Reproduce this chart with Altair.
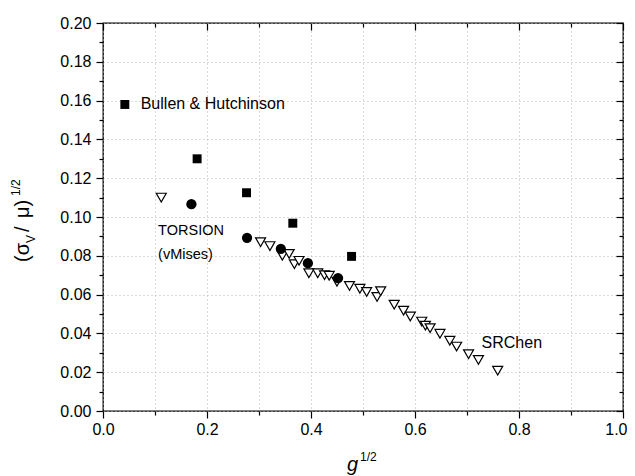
import altair as alt
import pandas as pd

# ---- data ----
sr_x = [0.112, 0.303, 0.321, 0.345, 0.358, 0.368, 0.377, 0.396, 0.413, 0.426,
        0.435, 0.450, 0.474, 0.494, 0.507, 0.527, 0.534, 0.560, 0.578, 0.591,
        0.613, 0.620, 0.629, 0.648, 0.667, 0.680, 0.703, 0.722, 0.759]
sr_y = [0.110, 0.087, 0.085, 0.080, 0.081, 0.0757, 0.0774, 0.071, 0.071, 0.070,
        0.0697, 0.0666, 0.0645, 0.063, 0.0614, 0.0588, 0.0618, 0.0548, 0.0517, 0.0487,
        0.0461, 0.0440, 0.0427, 0.0398, 0.0362, 0.0332, 0.0293, 0.0263, 0.0208]

tor_x = [0.170, 0.277, 0.342, 0.394, 0.452]
tor_y = [0.1066, 0.0893, 0.0836, 0.0762, 0.0685]

bh_x = [0.181, 0.276, 0.365, 0.478]
bh_y = [0.130, 0.1125, 0.0968, 0.0797]

leg_x = [0.042]
leg_y = [0.158]

label_text = ["Bullen & Hutchinson", "TORSION", "(vMises)", "SRChen"]
label_x = [0.0725, 0.106, 0.106, 0.728]
label_y = [0.1582, 0.0926, 0.0802, 0.0351]
label_size = [16, 14.5, 14.5, 16]

x_major = [0.0, 0.2, 0.4, 0.6, 0.8, 1.0]
x_minor = [0.1, 0.3, 0.5, 0.7, 0.9]
y_major = [0.0, 0.02, 0.04, 0.06, 0.08, 0.10, 0.12, 0.14, 0.16, 0.18, 0.20]
y_minor = [0.01, 0.03, 0.05, 0.07, 0.09, 0.11, 0.13, 0.15, 0.17, 0.19]

FONT = "Liberation Sans"

sr = pd.DataFrame({"x": sr_x, "y": sr_y})
tor = pd.DataFrame({"x": tor_x, "y": tor_y})
bh = pd.DataFrame({"x": bh_x, "y": bh_y})
leg = pd.DataFrame({"x": leg_x, "y": leg_y})
labels = pd.DataFrame({"x": label_x, "y": label_y, "t": label_text, "s": label_size})

xs = alt.Scale(domain=[0, 1], nice=False, zero=False)
ys = alt.Scale(domain=[0, 0.2], nice=False, zero=False)

common = dict(domain=False, title=None, tickColor="black", tickWidth=1.2,
              labelFont=FONT, labelFontSize=16, labelColor="black",
              labelFlush=False, labelOverlap=False, labelBound=False,
              gridColor="#b4b4b4", gridDash=[1, 3], gridWidth=1)

ax_x_major = alt.Axis(orient="bottom", values=x_major, format=".1f", tickSize=7,
                      labelPadding=3, grid=True,
                      labelAlign={"condition": {"test": "datum.value >= 1", "value": "right"},
                                  "value": "center"},
                      labelOffset={"condition": {"test": "datum.value >= 1", "value": 4},
                                   "value": 0},
                      **common)
ax_y_major = alt.Axis(orient="left", values=y_major, format=".2f", tickSize=7,
                      labelPadding=5, grid=True, **common)
ax_x_minor = alt.Axis(orient="bottom", values=x_minor, tickSize=4, labels=False,
                      grid=True, **common)
ax_y_minor = alt.Axis(orient="left", values=y_minor, tickSize=4, labels=False,
                      grid=False, **common)
ax_x_top = alt.Axis(orient="top", values=x_major, tickSize=7, offset=-7, labels=False,
                    grid=False, **common)
ax_y_right = alt.Axis(orient="right", values=y_major, tickSize=7, offset=-7, labels=False,
                      grid=False, **common)
ax_x_top_minor = alt.Axis(orient="top", values=x_minor, tickSize=4, offset=-4, labels=False,
                          grid=False, **common)
ax_y_right_minor = alt.Axis(orient="right", values=y_minor, tickSize=4, offset=-4, labels=False,
                            grid=False, **common)

tri = alt.Chart(sr).mark_point(shape="triangle-down", filled=True, fill="white",
                               stroke="black", strokeWidth=1.2, size=100, opacity=1).encode(
    x=alt.X("x:Q", scale=xs, axis=ax_x_major),
    y=alt.Y("y:Q", scale=ys, axis=ax_y_major),
)
circ = alt.Chart(tor).mark_circle(color="black", size=105, opacity=1).encode(
    x=alt.X("x:Q", scale=xs, axis=ax_x_minor),
    y=alt.Y("y:Q", scale=ys, axis=ax_y_minor),
)
sq = alt.Chart(bh).mark_square(color="black", size=80, opacity=1).encode(
    x=alt.X("x:Q", scale=xs, axis=ax_x_top),
    y=alt.Y("y:Q", scale=ys, axis=ax_y_right),
)
legsq = alt.Chart(leg).mark_square(color="black", size=80, opacity=1).encode(
    x=alt.X("x:Q", scale=xs, axis=ax_x_top_minor),
    y=alt.Y("y:Q", scale=ys, axis=ax_y_right_minor),
)
txt = alt.Chart(labels).mark_text(align="left", baseline="middle", font=FONT,
                                  color="black").encode(
    x=alt.X("x:Q", scale=xs, axis=None),
    y=alt.Y("y:Q", scale=ys, axis=None),
    text="t:N",
    size=alt.Size("s:Q", scale=None, legend=None),
)


def piece(text, key, x, y, size, angle=0, align="left", baseline="middle",
          style="normal", color="black"):
    return alt.Chart(pd.DataFrame({"t": [text], "k": [key]})).mark_text(
        align=align, baseline=baseline, angle=angle, font=FONT, fontSize=size,
        fontStyle=style, color=color).encode(
        x=alt.value(x), y=alt.value(y), text="t:N")


# y-axis title: (σ_V / μ)^{1/2}, rotated
yt1 = piece("(σ", "y1", -80.5, 239, 20, angle=270)
yt2 = piece("V", "y2", -72.5, 220, 12, angle=270)
yt3 = piece("/", "y3", -80.5, 209, 20, angle=270)
yt4 = piece("μ)", "y4", -80.5, 195, 20, angle=270)
yt5 = piece("1/2", "y5", -87, 173, 12, angle=270)
# x-axis title: g^{1/2}
xt1 = piece("g", "x1", 244, 448, 20, baseline="alphabetic", style="italic")
xt2 = piece("1/2", "x2", 257, 438, 12, baseline="alphabetic")

chart = alt.layer(tri, circ, sq, legsq, txt, yt1, yt2, yt3, yt4, yt5, xt1, xt2).resolve_axis(
    x="independent", y="independent"
).properties(
    width=520, height=388,
    autosize=alt.AutoSizeParams(type="none"),
    padding={"left": 95, "top": 15, "right": 4, "bottom": 65},
    background="white",
).configure_view(stroke="black", strokeWidth=1.3)

chart.save("out.html", embed_options={"renderer": "svg", "actions": False})
